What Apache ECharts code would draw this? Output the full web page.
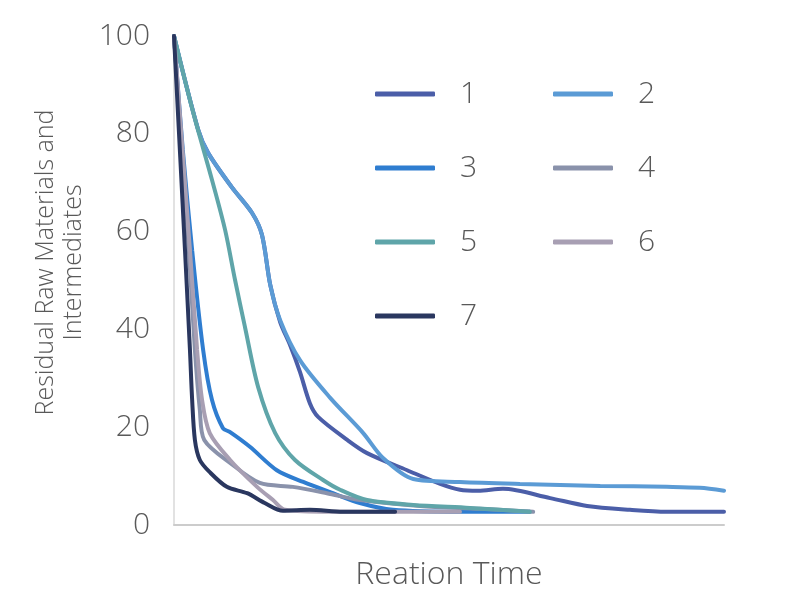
<!DOCTYPE html>
<html><head><meta charset="utf-8">
<script src="https://cdn.jsdelivr.net/npm/echarts@6/dist/echarts.min.js"></script>
<style>html,body{margin:0;padding:0;background:#fff}#c{width:800px;height:596px}</style>
</head><body><div id="c"></div>
<script>
const seriesNames = ['1','2','3','4','5','6','7'];
const yTicks = [0,20,40,60,80,100];
const s1 = [[0,100],[4.4,80.8],[6.2,76.1],[10.5,69.1],[14.2,63.8],[16,59.3],[17.5,49.1],[19.3,41.5],[21.1,36.8],[22.9,31.3],[24.7,24.9],[26.2,22.1],[31.5,17.4],[35.1,14.7],[42.4,11.2],[48.4,8.4],[52,7.2],[55.3,7.0],[59.8,7.4],[68.4,5.5],[75.1,3.9],[82.9,3.1],[89.6,2.7],[100,2.7]];
const s2 = [[0,100],[4.4,80.8],[6.2,76.1],[10.5,69.1],[14.2,63.8],[16,59.3],[17.5,49.1],[19.3,41.9],[22.9,33.7],[28.4,26.0],[34.4,18.8],[38,13.7],[43.5,9.4],[52,8.8],[62.9,8.4],[77.5,8.0],[89.6,7.8],[95.6,7.6],[100,7.0]];
const s3 = [[0,100],[1.6,76.7],[3.3,56.2],[5.3,35.8],[6.9,25.6],[8.9,19.8],[10.2,19.0],[13.8,16.0],[18.7,11.2],[23.5,8.8],[28.9,6.5],[33.8,4.5],[39.8,3.1],[52,2.7],[64.7,2.7]];
const s4 = [[0,100],[2.7,56.2],[3.8,35.8],[4.7,23.5],[5.5,17.4],[10.2,12.7],[15.6,8.6],[21.6,7.8],[27.8,6.5],[33.8,5.1],[44.7,3.9],[55.6,3.3],[65.3,2.7]];
const s5 = [[0,100],[3.5,84.3],[6.9,70.6],[9.3,60.3],[11.1,50.1],[12.9,40.5],[15.3,28.2],[18.4,18.8],[22,13.3],[27.1,9.2],[30.2,7.2],[35.1,5.1],[43.5,4.1],[53.8,3.5],[64.7,2.7]];
const s6 = [[0,100],[2.9,56.2],[4.2,35.8],[5.1,25.6],[6.5,18.8],[10.2,13.3],[15.1,7.8],[18,5.1],[20.2,3.1],[28.4,2.7],[52,2.7]];
const s7 = [[0,100],[2,56.2],[2.9,35.8],[3.3,25.6],[3.8,17.4],[4.7,13.3],[6.5,10.8],[9.6,7.8],[13.3,6.5],[16.5,4.5],[19.8,2.9],[24.7,3.1],[30.7,2.7],[40.2,2.7]];
const allData = [s1,s2,s3,s4,s5,s6,s7];
const colors = ['#4b5ea8','#5b9bd5','#2f7dd0','#8a92ab','#5fa5a9','#a89fb3','#2a375f'];

const chart = echarts.init(document.getElementById('c'));
const font = '"Open Sans", sans-serif';
const legendBase = {
  orient:'vertical', itemWidth:60, itemHeight:5, icon:'roundRect', itemGap:44,
  textStyle:{fontFamily:font, fontSize:30, fontWeight:'lighter', color:'#595959', lineHeight:30, padding:[0,0,0,20]}
};
chart.setOption({
  animation:false,
  color: colors,
  grid:{left:174, right:76, top:36, bottom:71, containLabel:false, outerBoundsMode:'none'},
  legend:[
    Object.assign({}, legendBase, {left:370, top:74, data:['1','3','5','7']}),
    Object.assign({}, legendBase, {left:548, top:74, data:['2','4','6']})
  ],
  xAxis:{type:'value', min:0, max:100, name:'Reation Time', nameLocation:'middle', nameGap:34,
    nameTextStyle:{fontFamily:font, fontSize:32, fontWeight:'lighter', color:'#595959'},
    axisLine:{show:true, lineStyle:{color:'#cccccc', width:2}}, axisTick:{show:false}, axisLabel:{show:false}, splitLine:{show:false}},
  yAxis:{type:'value', min:0, max:100, interval:20,
    name:'Residual Raw Materials and\nIntermediates', nameLocation:'middle', nameGap:73, nameRotate:90,
    nameTextStyle:{fontFamily:font, fontSize:25, fontWeight:'lighter', color:'#595959', lineHeight:28, padding:[0,0,0,36]},
    axisLine:{show:true, lineStyle:{color:'#d9d9d9', width:1.5}}, axisTick:{show:false}, splitLine:{show:false},
    axisLabel:{margin:24, fontFamily:font, fontSize:30, fontWeight:'lighter', color:'#595959',
      formatter: v => yTicks.includes(v) ? String(v) : ''}},
  series: allData.map((d,i)=>({
    name: seriesNames[i], type:'line', data:d, smooth:0.3, symbol:'none',
    lineStyle:{width:4, color:colors[i], cap:'round'}, itemStyle:{color:colors[i]}
  }))
});
</script></body></html>
